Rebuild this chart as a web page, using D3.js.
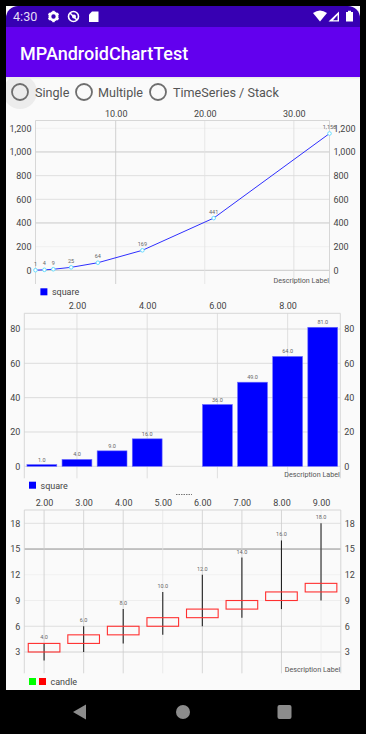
<!DOCTYPE html>
<html><head><meta charset="utf-8">
<script src="https://cdnjs.cloudflare.com/ajax/libs/d3/7.8.5/d3.min.js"></script>
<style>
html,body{margin:0;padding:0;background:#000;overflow:hidden}
svg{display:block}
text{font-family:Roboto,sans-serif}
</style></head><body>
<svg id="c" width="366" height="734"></svg>
<script>
// ---------- data ----------
const lineX = [1,2,3,5,8,13,21,34];
const lineY = [1,4,9,25,64,169,441,1156];
const lineLabels = ["1","4","9","25","64","169","441","1,156"];
const lineTopTicks = [10,20,30];
const lineYTicks = [0,200,400,600,800,1000,1200];

const barX = [1,2,3,4,6,7,8,9];
const barY = [1,4,9,16,36,49,64,81];
const barTopTicks = [2,4,6,8];
const barYTicks = [0,20,40,60,80];

const candleX = [2,3,4,5,6,7,8,9];
const candleOpen = [3,4,5,6,7,8,9,10];
const candleClose = [4,5,6,7,8,9,10,11];
const candleHigh = [4,6,8,10,12,14,16,18];
const candleLow = [2,3,4,5,6,7,8,9];
const candleTopTicks = [2,3,4,5,6,7,8,9];
const candleYTicks = [3,6,9,12,15,18];

const radioLabels = ["Single","Multiple","TimeSeries / Stack"];
const appTitle = "MPAndroidChartTest";
const descLabel = "Description Label";
// --------------------------

const svg = d3.select("#c");
const GRID="#d8d8d8", BORDER="#d2d2d2", TXT="#444";
const f2=d3.format(".2f"), f1=d3.format(".1f"), fc=d3.format(",");

// frame
svg.append("rect").attr("x",6).attr("y",6).attr("width",354).attr("height",684).attr("fill","#fafafa");
// ripple, clipped by the frame and painted under the app bar
svg.append("clipPath").attr("id","fr").append("rect").attr("x",6).attr("y",6).attr("width",354).attr("height",684);
svg.append("circle").attr("cx",20).attr("cy",92).attr("r",17).attr("fill","#ececec").attr("clip-path","url(#fr)");
svg.append("path").attr("d","M6 27V18A12 12 0 0 1 18 6H348A12 12 0 0 1 360 18V27Z").attr("fill","#3700b3");
svg.append("rect").attr("x",6).attr("y",27).attr("width",354).attr("height",50).attr("fill","#6200ee");
svg.append("rect").attr("x",6).attr("y",77).attr("width",354).attr("height",1.5).attr("fill","#ececec");
svg.append("text").attr("x",13).attr("y",21).attr("font-size",12.6).attr("fill","#e4dcf6").text("4:30");
svg.append("text").attr("x",20).attr("y",60).attr("font-size",18).attr("font-weight",500).attr("fill","#fff").text(appTitle);

// status icons
const ic=svg.append("g").attr("fill","#fff");
ic.append("circle").attr("cx",53.5).attr("cy",16.5).attr("r",3.6).attr("fill","none").attr("stroke","#fff").attr("stroke-width",2.8);
ic.selectAll(".t").data(d3.range(0,360,60)).join("rect").attr("x",52.3).attr("y",10.8).attr("width",2.4).attr("height",2.6).attr("transform",d=>`rotate(${d} 53.5 16.5)`);
ic.append("circle").attr("cx",73.5).attr("cy",16.5).attr("r",5).attr("fill","none").attr("stroke","#fff").attr("stroke-width",1.6);
ic.append("path").attr("d","M70 13L77 20").attr("stroke","#fff").attr("stroke-width",1.5);
ic.append("circle").attr("cx",74).attr("cy",16.5).attr("r",2).attr("fill","#fff");
ic.append("path").attr("d","M92 11.5H98.5V22H89V14.5Z");
ic.append("path").attr("d","M313 13Q320 8 327 13L320 21.5Z");
ic.append("path").attr("d","M339 11.5V21.5H328.5Z M337.6 15V20.2H333Z").attr("fill-rule","evenodd");
ic.append("path").attr("d","M346 12H348V10.8H351V12H353V21.5H346Z");

// radios
const radioCx=[20,84,158], radioTx=[35,98,173];
svg.selectAll(".rb").data(radioLabels).join("g").each(function(d,i){
  const g=d3.select(this);
  g.append("circle").attr("cx",radioCx[i]).attr("cy",92).attr("r",8).attr("fill","none").attr("stroke","#6e6e6e").attr("stroke-width",1.8);
  g.append("text").attr("x",radioTx[i]).attr("y",97).attr("font-size",12.6).attr("fill","#555").text(d);
});

// chart scaffold
function axes(box,xs,ys,topTicks,yTicks,yFmt,hStyle,vStyle){
  const g=svg.append("g");
  const ax=d3.axisTop(xs).tickValues(topTicks).tickFormat(f2).tickSize(0).tickPadding(0);
  const top=g.append("g").attr("transform",`translate(0,${box.top-4})`).call(ax);
  top.select(".domain").remove();
  const al=d3.axisLeft(ys).tickValues(yTicks).tickFormat(yFmt).tickSize(0).tickPadding(0);
  const l=g.append("g").attr("transform",`translate(${box.left-4},0)`).call(al);
  l.select(".domain").remove();
  const ar=d3.axisRight(ys).tickValues(yTicks).tickFormat(yFmt).tickSize(0).tickPadding(0);
  const r=g.append("g").attr("transform",`translate(${box.right+4},0)`).call(ar);
  r.select(".domain").remove();
  g.selectAll("text").attr("font-size",box.fs).attr("font-family","Roboto,sans-serif").attr("fill",TXT);
  // grid
  g.selectAll(".h").data(yTicks).join("line").attr("x1",box.left).attr("x2",box.right)
    .attr("y1",d=>ys(d)).attr("y2",d=>ys(d)).attr("stroke",(d,i)=>hStyle?hStyle[i]:GRID).attr("stroke-width",0.9);
  g.selectAll(".v").data(topTicks).join("line").attr("y1",box.top).attr("y2",box.bottom)
    .attr("x1",d=>xs(d)).attr("x2",d=>xs(d)).attr("stroke",(d,i)=>vStyle?vStyle[i]:GRID).attr("stroke-width",0.8);
  // border
  g.append("path").attr("d",`M${box.left} ${box.bottom}V${box.top}H${box.right}V${box.bottom}`).attr("fill","none").attr("stroke",BORDER).attr("stroke-width",0.9);
  svg.append("text").attr("x",box.right-0.5).attr("y",box.bottom-1.5).attr("text-anchor","end").attr("font-size",box.dfs).attr("fill","#555").text(descLabel);
}
function legend(x,y,cols,label){
  cols.forEach((c,i)=>svg.append("rect").attr("x",x+i*10).attr("y",y).attr("width",7).attr("height",7).attr("fill",c));
  svg.append("text").attr("x",x+cols.length*10+1.5).attr("y",y+7).attr("font-size",9).attr("fill",TXT).text(label);
}
const valLabel=(sel,fn,xf,yf)=>sel.join("text").attr("text-anchor","middle").attr("font-size",5.5).attr("fill","#666").attr("x",xf).attr("y",yf).text(fn);

// ---- line chart ----
{
  const box={left:35.5,right:329.5,top:120.5,bottom:284,fs:9,dfs:7.2};
  const xs=d3.scaleLinear().domain([1,34]).range([box.left,box.right]);
  const ys=d3.scaleLinear().domain([0,1200]).range([270.3,128.3]);
  axes(box,xs,ys,lineTopTicks,lineYTicks,fc,["#c4c4c4","#efefef","#c4c4c4","#dddddd","#dddddd","#c4c4c4","#efefef"],["#c8c8c8","#e2e2e2","#dadada"]);
  const pts=lineX.map((x,i)=>[xs(x),ys(lineY[i])]);
  svg.append("path").attr("d",d3.line()(pts)).attr("fill","none").attr("stroke","#2f2fff").attr("stroke-width",1);
  svg.selectAll(".p").data(pts).join("circle").attr("cx",d=>d[0]).attr("cy",d=>d[1]).attr("r",1.8).attr("fill","#fff").attr("stroke","#66ddff").attr("stroke-width",1);
  valLabel(svg.append("g").selectAll("text").data(pts),(d,i)=>lineLabels[i],d=>d[0],d=>d[1]-4.5);
  legend(40.4,288.3,["#0000ff"],"square");
}
// ---- bar chart ----
{
  const box={left:24.3,right:340.3,top:313.3,bottom:478.3,fs:9,dfs:7.2};
  const xs=d3.scaleLinear().domain([0.5,9.5]).range([box.left,box.right]);
  const ys=d3.scaleLinear().domain([0,80]).range([466.3,329]);
  axes(box,xs,ys,barTopTicks,barYTicks,d=>d);
  const bw=xs(0.85)-xs(0);
  const g=svg.append("g");
  g.selectAll("rect").data(barX).join("rect")
    .attr("x",d=>xs(d)-bw/2).attr("width",bw)
    .attr("y",(d,i)=>ys(barY[i])).attr("height",(d,i)=>ys(0)-ys(barY[i]))
    .attr("fill","#0000ff").attr("stroke","#6a6aff").attr("stroke-width",0.6);
  valLabel(svg.append("g").selectAll("text").data(barX),(d,i)=>f1(barY[i]),d=>xs(d),(d,i)=>ys(barY[i])-3);
  legend(29,481.7,["#0000ff"],"square");
}
// faint clipped mark above the third chart
svg.append("line").attr("x1",176).attr("x2",192).attr("y1",494.5).attr("y2",494.5).attr("stroke","#555").attr("stroke-width",0.8).attr("stroke-dasharray","1.5 1");
// ---- candle chart ----
{
  const box={left:24.3,right:340.8,top:510,bottom:673.3,fs:9,dfs:7.2};
  const xs=d3.scaleLinear().domain([1.5,9.5]).range([box.left,box.right]);
  const ys=d3.scaleLinear().domain([3,18]).range([652,523.3]);
  axes(box,xs,ys,candleTopTicks,candleYTicks,d=>d,["#cfcfcf","#dadada","#ececec","#f0f0f0","#808080","#dcdcdc"],["#cdcdcd","#cdcdcd","#cdcdcd","#e4e4e4","#cdcdcd","#cdcdcd","#cdcdcd","#ececec"]);
  const bw=xs(0.8)-xs(0);
  const g=svg.append("g");
  g.selectAll("line").data(candleX).join("line")
    .attr("x1",d=>xs(d)).attr("x2",d=>xs(d))
    .attr("y1",(d,i)=>ys(candleHigh[i])).attr("y2",(d,i)=>ys(candleLow[i]))
    .attr("stroke","#222").attr("stroke-width",1.1);
  g.selectAll("rect").data(candleX).join("rect")
    .attr("x",d=>xs(d)-bw/2).attr("width",bw)
    .attr("y",(d,i)=>ys(candleClose[i])).attr("height",(d,i)=>ys(candleOpen[i])-ys(candleClose[i]))
    .attr("fill","none").attr("stroke","#ff3030").attr("stroke-width",1.1);
  valLabel(svg.append("g").selectAll("text").data(candleX),(d,i)=>f1(candleHigh[i]),d=>xs(d),(d,i)=>ys(candleHigh[i])-4);
  legend(29,678,["#00ff00","#ff0000"],"candle");
}
// nav bar
const nav=svg.append("g").attr("fill","#8c8c8c");
nav.append("path").attr("d","M73 712L86 704.5V719.5Z");
nav.append("circle").attr("cx",183).attr("cy",712).attr("r",7);
nav.append("rect").attr("x",277.5).attr("y",705).attr("width",14).attr("height",14).attr("rx",2);
</script></body></html>
